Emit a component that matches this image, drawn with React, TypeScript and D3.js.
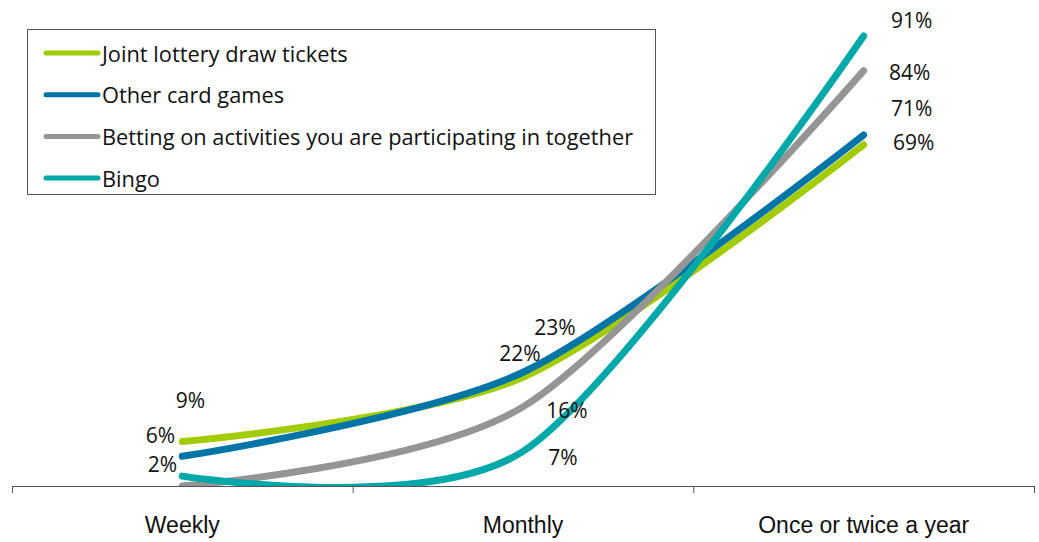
import React, { useEffect } from "react";
import * as d3 from "d3";

const categories = ["Weekly", "Monthly", "Once or twice a year"];
const seriesNames = [
  "Joint lottery draw tickets",
  "Other card games",
  "Betting on activities you are participating in together",
  "Bingo",
];
const jointLottery = [9, 22, 69];
const otherCard = [6, 23, 71];
const betting = [0, 16, 84];
const bingo = [2, 7, 91];
const seriesValues = [jointLottery, otherCard, betting, bingo];
const showLabel = [
  [true, true, true],
  [true, true, true],
  [false, true, true],
  [true, true, true],
];
const colors = ["#A2CC00", "#0075A6", "#959595", "#00A8A9"];
// label offsets (dx, dy) from the point, per series per category
const labelOffsets = [
  [[8, -41], [-3, -24], [50, -3]],
  [[-22, -21], [32, -45], [48, -27]],
  [[0, 0], [44, 3], [46, 1]],
  [[-20, -12], [40, 6], [48, -16]],
];

const W = 1039;
const H = 542;

export default function App() {
  useEffect(() => {
    document.body.style.margin = "0";
  }, []);

  const x = d3.scaleBand<string>().domain(categories).range([12, 1034]).padding(0);
  const cx = (c: string) => (x(c) as number) + x.bandwidth() / 2;
  const y = d3.scaleLinear().domain([0, 91]).range([486, 36]);
  const line = d3
    .line<number>()
    .x((_, i) => cx(categories[i]))
    .y((d) => y(d))
    .curve(d3.curveCardinal.tension(0.15));

  const tickXs = [...categories.map((c) => x(c) as number), 1034];
  const labelFont = "'Open Sans', sans-serif";

  return (
    <svg width={W} height={H} style={{ display: "block", background: "#fff" }}>
      <defs>
        <clipPath id="plot">
          <rect x={0} y={0} width={W} height={486} />
        </clipPath>
      </defs>
      {/* lines */}
      <g clipPath="url(#plot)">
        {seriesValues.map((vals, si) => (
          <path
            key={si}
            d={line(vals) as string}
            fill="none"
            stroke={colors[si]}
            strokeWidth={7}
            strokeLinecap="round"
          />
        ))}
      </g>
      {/* axis */}
      <line x1={12} x2={1034} y1={486.5} y2={486.5} stroke="#555" strokeWidth={1.2} />
      {tickXs.map((t, i) => (
        <line key={i} x1={t + 0.5} x2={t + 0.5} y1={486} y2={493} stroke="#555" strokeWidth={1} />
      ))}
      {categories.map((c) => (
        <text
          key={c}
          x={cx(c)}
          y={533}
          textAnchor="middle"
          fontFamily="'Liberation Sans', Arial, sans-serif"
          fontSize={23}
          fill="#111"
        >
          {c}
        </text>
      ))}
      {/* data labels */}
      {seriesValues.map((vals, si) =>
        vals.map((v, ci) =>
          showLabel[si][ci] ? (
            <text
              key={`${si}-${ci}`}
              x={cx(categories[ci]) + labelOffsets[si][ci][0]}
              y={y(v) + labelOffsets[si][ci][1]}
              textAnchor="middle"
              dominantBaseline="central"
              fontFamily={labelFont}
              fontSize={21}
              fill="#111"
            >
              {v}%
            </text>
          ) : null
        )
      )}
      {/* legend */}
      <rect x={27.5} y={29.5} width={628} height={165} fill="#fff" stroke="#555" strokeWidth={1} />
      {seriesNames.map((n, i) => {
        const ly = 53 + i * 41.7;
        return (
          <g key={n}>
            <line x1={46} x2={98} y1={ly} y2={ly} stroke={colors[i]} strokeWidth={5} strokeLinecap="round" />
            <text
              x={102}
              y={ly}
              dominantBaseline="central"
              fontFamily={labelFont}
              fontSize={21.8}
              fill="#111"
            >
              {n}
            </text>
          </g>
        );
      })}
    </svg>
  );
}
